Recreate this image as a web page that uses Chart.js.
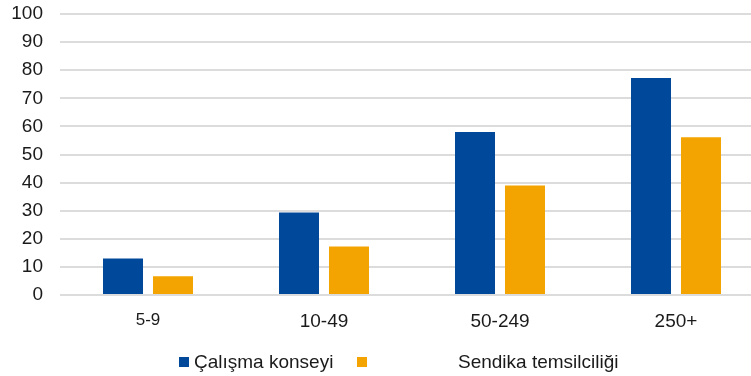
<!DOCTYPE html>
<html lang="tr">
<head>
<meta charset="utf-8">
<script src="https://cdn.jsdelivr.net/npm/chart.js@4/dist/chart.umd.min.js"></script>
<style>
  html, body { margin: 0; padding: 0; background: #fff; overflow: hidden; }
  #frame { width: 751px; height: 376px; overflow: hidden; position: relative; }
  #wrap { width: 768px; height: 376px; position: absolute; left: 0; top: 0; }
</style>
</head>
<body>
<div id="frame"><div id="wrap"><canvas id="c"></canvas></div></div>
<script>
// Firm size classes and shares (%) for each form of representation
const categories = ['5-9', '10-49', '50-249', '250+'];
const calismaKonseyi = [13, 29.4, 58, 77.2];
const sendikaTemsilciligi = [6.7, 17.3, 39, 56.1];
const seriesNames = ['Çalışma konseyi', 'Sendika temsilciliği'];
const yTicks = [0, 10, 20, 30, 40, 50, 60, 70, 80, 90, 100];

const BLUE = '#00489A';
const ORANGE = '#F4A400';
const FONT = 'Liberation Sans, Arial, sans-serif';
const TEXT = '#1a1a1a';

// Legend drawn below the axis, with a wide gap before the second label
const legendPlugin = {
  id: 'bottomLegend',
  afterDraw(chart) {
    const ctx = chart.ctx;
    ctx.save();
    ctx.font = '19px ' + FONT;
    ctx.textBaseline = 'middle';
    const y = 362;
    const items = [
      { box: 179, text: 194, ds: 0 },
      { box: 357, text: 458, ds: 1 }
    ];
    items.forEach(it => {
      const ds = chart.data.datasets[it.ds];
      ctx.fillStyle = ds.backgroundColor;
      ctx.fillRect(it.box, y - 5, 10, 10);
      ctx.fillStyle = TEXT;
      ctx.fillText(ds.label, it.text, y + 1);
    });
    ctx.restore();
  }
};

new Chart(document.getElementById('c'), {
  type: 'bar',
  data: {
    labels: categories,
    datasets: [
      { label: seriesNames[0], data: calismaKonseyi, backgroundColor: BLUE },
      { label: seriesNames[1], data: sendikaTemsilciligi, backgroundColor: ORANGE }
    ]
  },
  options: {
    responsive: true,
    maintainAspectRatio: false,
    animation: false,
    layout: { padding: { top: 0, left: 0, right: 4, bottom: 0 } },
    datasets: {
      bar: { categoryPercentage: 100 / 176, barPercentage: 0.8 }
    },
    plugins: {
      legend: { display: false },
      tooltip: { enabled: false }
    },
    scales: {
      x: {
        grid: { display: false, drawTicks: false },
        border: { display: false },
        ticks: {
          color: TEXT,
          padding: 15,
          font: c => ({ family: FONT, size: c.index === 0 ? 17 : 19 })
        },
        afterFit(s) { s.height = 81; }
      },
      y: {
        min: 0,
        max: 100,
        afterBuildTicks(s) { s.ticks = yTicks.map(v => ({ value: v })); },
        grid: { color: '#dcdcdc', lineWidth: 2, drawTicks: false },
        border: { display: false },
        ticks: {
          color: TEXT,
          padding: 17,
          font: { family: FONT, size: 19 }
        },
        afterFit(s) { s.width = 60; s.paddingTop = 14; }
      }
    }
  },
  plugins: [legendPlugin]
});
</script>
</body>
</html>
